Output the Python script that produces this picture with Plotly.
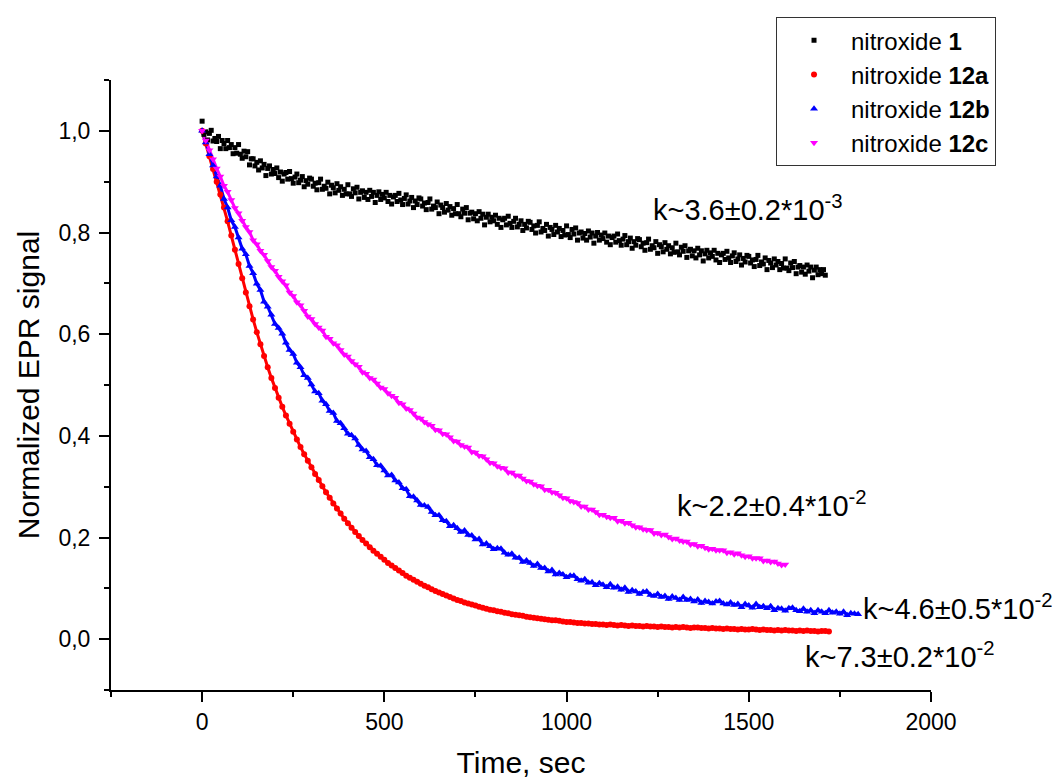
import plotly.graph_objects as go

# sampling times, sec
t_n1 = list(range(0, 1715, 5))
t_12a = list(range(0, 1730, 10))
t_12b = list(range(0, 1810, 10))
t_12c = list(range(0, 1610, 10))

# nitroxide 1 (every 5 s)
v_n1 = [
    1.019, 0.993, 0.998, 0.982, 0.995, 1.001, 0.980, 0.985, 0.979, 0.989, 0.965, 0.981, 0.975, 0.965, 0.981, 0.967, 0.973, 0.955, 0.967, 0.956,
    0.973, 0.954, 0.946, 0.960, 0.949, 0.959, 0.933, 0.945, 0.945, 0.931, 0.938, 0.923, 0.941, 0.927, 0.934, 0.912, 0.926, 0.931, 0.915, 0.924,
    0.916, 0.927, 0.908, 0.919, 0.901, 0.915, 0.918, 0.905, 0.920, 0.906, 0.897, 0.909, 0.915, 0.898, 0.903, 0.910, 0.890, 0.902, 0.895, 0.907,
    0.905, 0.891, 0.897, 0.884, 0.898, 0.905, 0.885, 0.891, 0.887, 0.899, 0.876, 0.893, 0.888, 0.878, 0.896, 0.883, 0.890, 0.873, 0.885, 0.876,
    0.894, 0.876, 0.871, 0.886, 0.878, 0.889, 0.866, 0.879, 0.882, 0.869, 0.879, 0.865, 0.883, 0.871, 0.879, 0.859, 0.873, 0.880, 0.865, 0.875,
    0.868, 0.879, 0.861, 0.873, 0.856, 0.870, 0.873, 0.861, 0.877, 0.864, 0.855, 0.867, 0.874, 0.856, 0.862, 0.869, 0.849, 0.862, 0.855, 0.868,
    0.866, 0.852, 0.858, 0.845, 0.859, 0.866, 0.846, 0.852, 0.849, 0.860, 0.837, 0.854, 0.849, 0.840, 0.857, 0.844, 0.851, 0.834, 0.847, 0.837,
    0.855, 0.837, 0.831, 0.846, 0.838, 0.849, 0.825, 0.838, 0.840, 0.827, 0.837, 0.823, 0.841, 0.828, 0.836, 0.815, 0.830, 0.836, 0.821, 0.830,
    0.823, 0.834, 0.816, 0.828, 0.810, 0.825, 0.828, 0.815, 0.832, 0.818, 0.810, 0.822, 0.828, 0.811, 0.816, 0.823, 0.804, 0.816, 0.809, 0.822,
    0.820, 0.806, 0.813, 0.799, 0.814, 0.821, 0.801, 0.808, 0.804, 0.816, 0.793, 0.810, 0.806, 0.796, 0.814, 0.801, 0.808, 0.792, 0.804, 0.795,
    0.813, 0.796, 0.790, 0.806, 0.797, 0.809, 0.785, 0.799, 0.801, 0.789, 0.798, 0.785, 0.803, 0.791, 0.799, 0.779, 0.793, 0.800, 0.785, 0.795,
    0.788, 0.799, 0.781, 0.793, 0.776, 0.790, 0.793, 0.781, 0.797, 0.784, 0.775, 0.787, 0.794, 0.776, 0.782, 0.789, 0.769, 0.782, 0.775, 0.788,
    0.786, 0.772, 0.779, 0.765, 0.780, 0.787, 0.767, 0.774, 0.770, 0.782, 0.759, 0.776, 0.772, 0.762, 0.780, 0.767, 0.774, 0.758, 0.770, 0.761,
    0.779, 0.762, 0.756, 0.771, 0.763, 0.774, 0.751, 0.764, 0.767, 0.754, 0.764, 0.750, 0.769, 0.756, 0.764, 0.744, 0.758, 0.765, 0.750, 0.760,
    0.753, 0.765, 0.746, 0.759, 0.741, 0.756, 0.759, 0.747, 0.763, 0.750, 0.741, 0.754, 0.760, 0.743, 0.748, 0.756, 0.736, 0.749, 0.742, 0.755,
    0.753, 0.740, 0.746, 0.733, 0.747, 0.755, 0.735, 0.742, 0.738, 0.750, 0.727, 0.745, 0.740, 0.731, 0.748, 0.736, 0.743, 0.727, 0.739, 0.730,
    0.748, 0.730, 0.725, 0.740, 0.731, 0.743, 0.719, 0.732, 0.735, 0.722, 0.732, 0.718, 0.736, 0.724, 0.732, 0.711, 0.726, 0.732, 0.717, 0.727,
    0.719, 0.727, 0.716,
]

# nitroxide 12a, every 10 s
v_12a = [
    1.000, 0.975, 0.950, 0.925, 0.900, 0.875, 0.849, 0.822, 0.794, 0.766,
    0.738, 0.710, 0.682, 0.655, 0.629, 0.604, 0.580, 0.557, 0.535, 0.514,
    0.494, 0.475, 0.457, 0.440, 0.424, 0.408, 0.393, 0.378, 0.364, 0.351,
    0.338, 0.325, 0.313, 0.301, 0.289, 0.278, 0.267, 0.257, 0.247, 0.237,
    0.228, 0.219, 0.211, 0.203, 0.195, 0.188, 0.181, 0.174, 0.168, 0.162,
    0.156, 0.150, 0.145, 0.140, 0.135, 0.130, 0.125, 0.121, 0.117, 0.113,
    0.109, 0.105, 0.102, 0.098, 0.095, 0.092, 0.089, 0.086, 0.083, 0.080,
    0.077, 0.075, 0.072, 0.070, 0.068, 0.066, 0.064, 0.062, 0.060, 0.058,
    0.057, 0.055, 0.054, 0.052, 0.051, 0.049, 0.048, 0.047, 0.046, 0.044,
    0.043, 0.042, 0.041, 0.040, 0.039, 0.038, 0.037, 0.037, 0.036, 0.035,
    0.034, 0.034, 0.033, 0.032, 0.032, 0.031, 0.031, 0.030, 0.030, 0.029,
    0.029, 0.028, 0.029, 0.028, 0.027, 0.028, 0.027, 0.026, 0.027, 0.026,
    0.026, 0.025, 0.026, 0.025, 0.025, 0.024, 0.025, 0.024, 0.024, 0.023,
    0.024, 0.023, 0.024, 0.023, 0.022, 0.023, 0.023, 0.022, 0.022, 0.021,
    0.022, 0.021, 0.021, 0.020, 0.021, 0.020, 0.020, 0.019, 0.020, 0.019,
    0.019, 0.020, 0.019, 0.018, 0.019, 0.018, 0.018, 0.017, 0.018, 0.017,
    0.018, 0.017, 0.017, 0.016, 0.017, 0.016, 0.017, 0.016, 0.016, 0.015,
    0.016, 0.016, 0.015,
]

# nitroxide 12b, every 10 s
v_12b = [
    1.000, 0.977, 0.954, 0.932, 0.910, 0.892, 0.866, 0.849, 0.824, 0.811,
    0.790, 0.768, 0.757, 0.734, 0.720, 0.699, 0.687, 0.664, 0.654, 0.638,
    0.620, 0.612, 0.601, 0.583, 0.569, 0.561, 0.544, 0.535, 0.519, 0.514,
    0.501, 0.487, 0.484, 0.469, 0.462, 0.449, 0.445, 0.429, 0.425, 0.415,
    0.404, 0.401, 0.395, 0.382, 0.373, 0.370, 0.358, 0.354, 0.342, 0.341,
    0.332, 0.322, 0.323, 0.312, 0.308, 0.297, 0.295, 0.281, 0.280, 0.273,
    0.264, 0.263, 0.260, 0.250, 0.244, 0.244, 0.234, 0.232, 0.222, 0.224,
    0.218, 0.211, 0.214, 0.205, 0.204, 0.196, 0.197, 0.186, 0.188, 0.183,
    0.177, 0.179, 0.178, 0.170, 0.166, 0.168, 0.160, 0.160, 0.152, 0.155,
    0.150, 0.144, 0.148, 0.140, 0.140, 0.133, 0.136, 0.127, 0.130, 0.127,
    0.122, 0.125, 0.125, 0.118, 0.115, 0.118, 0.111, 0.112, 0.106, 0.110,
    0.107, 0.102, 0.108, 0.101, 0.103, 0.097, 0.101, 0.093, 0.096, 0.094,
    0.089, 0.093, 0.094, 0.087, 0.085, 0.089, 0.083, 0.085, 0.079, 0.084,
    0.081, 0.077, 0.083, 0.077, 0.079, 0.074, 0.078, 0.071, 0.075, 0.073,
    0.070, 0.074, 0.075, 0.070, 0.068, 0.072, 0.067, 0.069, 0.063, 0.069,
    0.066, 0.062, 0.069, 0.063, 0.065, 0.061, 0.065, 0.057, 0.061, 0.060,
    0.056, 0.061, 0.062, 0.057, 0.055, 0.060, 0.054, 0.057, 0.051, 0.057,
    0.054, 0.051, 0.057, 0.052, 0.054, 0.050, 0.054, 0.047, 0.051, 0.050,
    0.049,
]

# nitroxide 12c, every 10 s
v_12c = [
    1.000, 0.981, 0.962, 0.944, 0.926, 0.910, 0.892, 0.880, 0.864, 0.848,
    0.838, 0.823, 0.811, 0.801, 0.785, 0.777, 0.764, 0.756, 0.744, 0.732,
    0.725, 0.713, 0.704, 0.696, 0.682, 0.675, 0.663, 0.657, 0.646, 0.635,
    0.630, 0.620, 0.613, 0.607, 0.595, 0.591, 0.582, 0.578, 0.569, 0.560,
    0.556, 0.547, 0.541, 0.536, 0.525, 0.522, 0.514, 0.511, 0.503, 0.495,
    0.492, 0.484, 0.479, 0.475, 0.465, 0.462, 0.454, 0.451, 0.444, 0.436,
    0.434, 0.427, 0.423, 0.420, 0.412, 0.411, 0.404, 0.403, 0.397, 0.390,
    0.389, 0.382, 0.379, 0.377, 0.368, 0.367, 0.361, 0.360, 0.354, 0.347,
    0.346, 0.340, 0.337, 0.336, 0.328, 0.328, 0.322, 0.322, 0.316, 0.311,
    0.310, 0.305, 0.302, 0.301, 0.294, 0.294, 0.289, 0.288, 0.283, 0.278,
    0.277, 0.272, 0.270, 0.268, 0.261, 0.261, 0.255, 0.255, 0.250, 0.245,
    0.245, 0.241, 0.239, 0.239, 0.232, 0.233, 0.228, 0.229, 0.224, 0.220,
    0.220, 0.216, 0.215, 0.215, 0.208, 0.209, 0.205, 0.206, 0.201, 0.197,
    0.198, 0.194, 0.192, 0.192, 0.186, 0.187, 0.183, 0.184, 0.180, 0.177,
    0.178, 0.175, 0.175, 0.175, 0.170, 0.171, 0.167, 0.169, 0.165, 0.162,
    0.163, 0.159, 0.159, 0.159, 0.154, 0.155, 0.152, 0.153, 0.149, 0.146,
    0.147,
]

assert len(t_n1) == len(v_n1)
assert len(t_12a) == len(v_12a)
assert len(t_12b) == len(v_12b)
assert len(t_12c) == len(v_12c)

font = "Liberation Sans, Arial, sans-serif"

fig = go.Figure()

# joining lines under the dense coloured series
for t, v, c in [(t_12a, v_12a, "#ff0000"), (t_12b, v_12b, "#0000ff"), (t_12c, v_12c, "#ff00ff")]:
    fig.add_trace(go.Scatter(x=t, y=v, mode="lines", line=dict(color=c, width=3),
                             showlegend=False, hoverinfo="skip"))

fig.add_trace(go.Scatter(x=t_n1, y=v_n1, mode="markers", name="nitroxide <b>1</b>",
                         marker=dict(symbol="square", size=5, color="#000000")))
fig.add_trace(go.Scatter(x=t_12a, y=v_12a, mode="markers", name="nitroxide <b>12a</b>",
                         marker=dict(symbol="circle", size=6, color="#ff0000")))
fig.add_trace(go.Scatter(x=t_12b, y=v_12b, mode="markers", name="nitroxide <b>12b</b>",
                         marker=dict(symbol="triangle-up", size=7, color="#0000ff")))
fig.add_trace(go.Scatter(x=t_12c, y=v_12c, mode="markers", name="nitroxide <b>12c</b>",
                         marker=dict(symbol="triangle-down", size=7, color="#ff00ff")))

labels = [
    (1231, 0.848, "k~3.6±0.2*10<sup>-3</sup>"),
    (1297, 0.266, "k~2.2±0.4*10<sup>-2</sup>"),
    (1807, 0.064, "k~4.6±0.5*10<sup>-2</sup>"),
    (1648, -0.032, "k~7.3±0.2*10<sup>-2</sup>"),
]
for x, y, txt in labels:
    fig.add_annotation(x=x, y=y, text=txt, showarrow=False, xanchor="left", yanchor="middle",
                       font=dict(family=font, size=29, color="#000000"))

axis_common = dict(
    showline=True, linecolor="#000000", linewidth=2, mirror=False,
    showgrid=False, zeroline=False, automargin=False,
    ticks="outside", ticklen=10, tickwidth=2, tickcolor="#000000",
    tickfont=dict(family=font, size=23, color="#000000"),
)

# the page body adds an 8 px offset, so margins are shifted to keep the plot area in place
fig.update_layout(
    width=1060, height=781,
    margin=dict(l=103, r=137, t=72, b=99, autoexpand=False),
    paper_bgcolor="white", plot_bgcolor="white",
    separators=",.",
    font=dict(family=font, color="#000000"),
    xaxis=dict(range=[-250, 2000], tickvals=[0, 500, 1000, 1500, 2000], tickformat="d",
               minor=dict(dtick=250, tick0=-250, ticks="outside", ticklen=5, tickwidth=2, tickcolor="#000000"),
               title=dict(text="Time, sec", font=dict(family=font, size=30), standoff=18),
               **axis_common),
    yaxis=dict(range=[-0.1, 1.1], dtick=0.2, tick0=0, tickformat=".1f", ticklabelstandoff=4,
               minor=dict(dtick=0.1, tick0=-0.1, ticks="outside", ticklen=5, tickwidth=2, tickcolor="#000000"),
               title=dict(text="Normalized EPR signal", font=dict(family=font, size=30), standoff=10),
               **axis_common),
    legend=dict(x=0.811, y=1.103, xanchor="left", yanchor="top",
                bgcolor="white", bordercolor="#333333", borderwidth=1,
                font=dict(family=font, size=24, color="#000000"),
                itemwidth=64, tracegroupgap=0, itemsizing="trace"),
)

fig.write_html("out.html")
